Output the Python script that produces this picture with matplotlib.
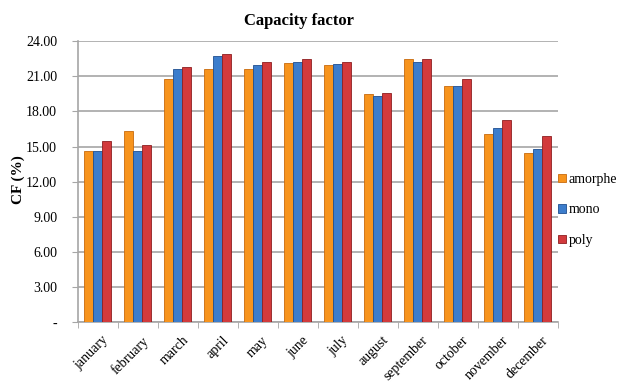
import numpy as np
import matplotlib.pyplot as plt

plt.rcParams['font.family'] = ['Liberation Serif', 'DejaVu Serif']

months = ["january", "february", "march", "april", "may", "june", "july",
          "august", "september", "october", "november", "december"]
amorphe = [14.60, 16.33, 20.77, 21.65, 21.57, 22.13, 21.96, 19.52, 22.45, 20.17, 16.11, 14.46]
mono = [14.63, 14.58, 21.57, 22.70, 21.96, 22.22, 22.02, 19.32, 22.19, 20.15, 16.59, 14.75]
poly = [15.45, 15.14, 21.76, 22.93, 22.19, 22.47, 22.25, 19.58, 22.47, 20.72, 17.25, 15.88]
series = [("amorphe", amorphe, "#F7941D", "#C86A0C"),
          ("mono", mono, "#3C7DCC", "#1F4F8F"),
          ("poly", poly, "#D23A3C", "#8E1E20")]
yticks = [0, 3, 6, 9, 12, 15, 18, 21, 24]

fig = plt.figure(figsize=(6.19, 3.83), dpi=100)
ax = fig.add_axes([0.126, 0.158, 0.775, 0.735])

x = np.arange(len(months))
w = 0.225
for i, (name, vals, col, edge) in enumerate(series):
    ax.bar(x + (i - 1) * w, vals, w, color=col, edgecolor=edge, linewidth=0.6,
           label=name, zorder=3)

ax.set_xlim(-0.5, len(months) - 0.5)
ax.set_ylim(0, 24)
ax.set_yticks(yticks)
ax.set_yticklabels(["-" if v == 0 else "%.2f" % v for v in yticks], fontsize=10)
ax.yaxis.grid(True, color="#A6A6A6", linewidth=1.2, zorder=0)

ax.set_xticks(x + 0.1)
ax.set_xticklabels(months, rotation=45, ha="right", rotation_mode="anchor", fontsize=10)
ax.set_xticks(np.arange(-0.5, len(months)), minor=True)
ax.tick_params(axis="x", which="major", length=0, pad=8)
ax.tick_params(axis="x", which="minor", length=4, color="#A6A6A6")
ax.tick_params(axis="y", length=4, color="#A6A6A6", pad=11)

for s in ["top", "right"]:
    ax.spines[s].set_visible(False)
for s in ["left", "bottom"]:
    ax.spines[s].set_color("#A6A6A6")
    ax.spines[s].set_linewidth(1.2)

fig.text(0.483, 0.945, "Capacity factor", fontsize=12, fontweight="bold",
         ha="center", va="center")
fig.text(0.029, 0.53, "CF (%)", fontsize=11, fontweight="bold", rotation=90,
         ha="center", va="center")

ax.legend(loc="center left", bbox_to_anchor=(0.995, 0.40), frameon=False,
          fontsize=10, handlelength=0.55, handleheight=0.55, handletextpad=0.2,
          labelspacing=1.25, borderpad=0.1, borderaxespad=0.1)

fig.savefig("out.png", dpi=100)
